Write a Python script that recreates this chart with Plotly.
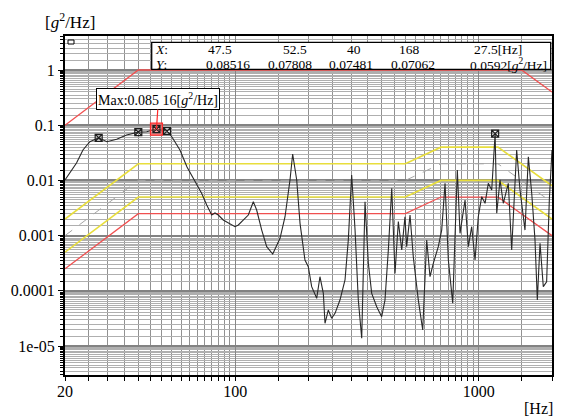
import numpy as np
import plotly.graph_objects as go

# ---------------- data ----------------
freq = [20, 22.3, 23.7, 25.3, 27.5, 29.7, 32.6, 35.8, 40, 43.3, 47.5, 52.5, 54.9, 59.3, 63.4, 68.4,
        72.8, 76.4, 80.1, 82.6, 85.2, 89.3, 96.7, 99.8, 103, 107.9, 113.2, 118.7, 122.5, 128.5,
        134.7, 142.6, 148, 152.8, 160.2, 167.9, 172.2, 178.9, 184.6, 193.4, 199.6, 206.1, 216.1,
        222.9, 230.1, 233.8, 241.1, 249, 257, 269.3, 282.5, 291.4, 300.8, 310.6, 320.3, 330.8,
        341.3, 352.2, 363.6, 381.2, 399.5, 412.2, 425.5, 439.4, 453.2, 467.7, 483, 498, 506,
        522.4, 538.7, 565, 589, 611.6, 631, 651, 682.4, 704.8, 727.4, 750.5, 782.2, 817, 838,
        878.9, 906.6, 935.9, 966, 996, 1029, 1062, 1095, 1131, 1168, 1186, 1223, 1262, 1323,
        1366, 1432, 1478, 1549, 1599, 1651, 1703, 1741, 1786, 1842, 1901, 1950, 2000]
psd = [0.0102, 0.0207, 0.0356, 0.0502, 0.0592, 0.0502, 0.0555, 0.0664, 0.07481, 0.0762, 0.08516,
       0.07808, 0.0619, 0.0356, 0.0175, 0.00935, 0.00584, 0.00358, 0.00236, 0.00257, 0.00236,
       0.00192, 0.00156, 0.00145, 0.00156, 0.00192, 0.00236, 0.00411, 0.00291, 0.00126, 0.00063,
       0.000464, 0.000676, 0.000893, 0.0022, 0.0102, 0.0301, 0.0102, 0.00167, 0.000361, 0.000273,
       0.000119, 7.31e-5, 0.00018, 9.0e-5, 2.58e-5, 4.49e-5, 3.18e-5, 3.91e-5, 6.8e-5, 0.000157,
       0.000832, 0.01253, 0.00126, 6.8e-5, 1.38e-5, 0.00411, 0.000315, 9.0e-5, 5.15e-5, 3.4e-5,
       6.8e-5, 0.000548, 0.0072, 0.000207, 0.00179, 0.000548, 0.0022, 0.00063, 0.00236, 0.000415,
       6.8e-5, 1.95e-5, 0.000832, 0.00018, 0.000315, 0.00063, 0.00126, 0.00885, 0.000361, 5.94e-5,
       0.0154, 0.0011, 0.00442, 0.00063, 0.00145, 0.000361, 0.0022, 0.00507, 0.00385, 0.00885,
       0.0067, 0.07062, 0.00254, 0.0102, 0.00385, 0.00885, 0.000548, 0.0356, 0.0067, 0.00126,
       0.0269, 0.00584, 0.000832, 6.8e-5, 0.000726, 0.000119, 0.000146, 0.00442, 0.0356]

mark_f = [27.5, 40, 47.5, 52.5, 1168]
mark_v = [0.0592, 0.07481, 0.08516, 0.07808, 0.07062]
max_f = 47.5
max_v = 0.08516
max_label = "0.085 16"

table_x = ["47.5", "52.5", "40", "168", "27.5"]
table_y = ["0.08516", "0.07808", "0.07481", "0.07062", "0.0592"]

prof_f = [20, 40, 500, 700, 1200, 2000]
ref_lvl = [0.001, 0.01, 0.01, 0.02, 0.02, 0.004]
warn_hi = [0.002, 0.02, 0.02, 0.04, 0.04, 0.008]
warn_lo = [0.0005, 0.005, 0.005, 0.01, 0.01, 0.002]
abort_lo = [0.00025, 0.0025, 0.0025, 0.005, 0.005, 0.001]
abort_hi_f = [20, 40, 1500, 2000]
abort_hi = [0.1, 1, 1, 0.4]

x_ticks = [20, 100, 1000, 2000]
x_ticktext = ["20", "100", "1000", "2000"]
y_ticks = [1e-5, 1e-4, 1e-3, 1e-2, 1e-1, 1]
y_ticktext = ["1e-05", "0.0001", "0.001", "0.01", "0.1", "1"]

# ---------------- grid positions ----------------
x_minor = list(range(25, 100, 5)) + list(range(150, 1000, 50)) + [1500]
y_minor = []
for n in range(-6, 1):
    for m in np.arange(1.5, 10, 0.5):
        y_minor.append(float(m) * 10.0 ** n)

FONT = "Liberation Serif"
RED = "rgb(240,80,80)"
YEL = "rgb(232,222,60)"

fig = go.Figure()

fig.add_trace(go.Scatter(x=abort_hi_f, y=abort_hi, mode="lines",
                         line=dict(color=RED, width=1.3), hoverinfo="skip"))
fig.add_trace(go.Scatter(x=prof_f, y=warn_hi, mode="lines",
                         line=dict(color=YEL, width=1.6), hoverinfo="skip"))
fig.add_trace(go.Scatter(x=prof_f, y=ref_lvl, mode="lines",
                         line=dict(color="rgb(165,165,165)", width=1, dash="dash"), hoverinfo="skip"))
fig.add_trace(go.Scatter(x=prof_f, y=warn_lo, mode="lines",
                         line=dict(color=YEL, width=1.6), hoverinfo="skip"))
fig.add_trace(go.Scatter(x=prof_f, y=abort_lo, mode="lines",
                         line=dict(color=RED, width=1.3), hoverinfo="skip"))
fig.add_trace(go.Scatter(x=freq, y=psd, mode="lines",
                         line=dict(color="rgb(40,40,40)", width=1.1)))
fig.add_trace(go.Scatter(x=[max_f], y=[max_v], mode="markers",
                         marker=dict(symbol="square", size=12, color="rgba(255,90,90,0.55)",
                                     line=dict(color="rgb(255,40,40)", width=1.2))))
fig.add_trace(go.Scatter(x=mark_f, y=mark_v, mode="markers",
                         marker=dict(symbol="square-x-open", size=7, color="rgb(30,30,30)",
                                     line=dict(width=1.2))))

fig.update_layout(
    width=566, height=419,
    margin=dict(l=65, r=14, t=36, b=44),
    paper_bgcolor="white", plot_bgcolor="white",
    showlegend=False,
    font=dict(family=FONT, size=16, color="black"),
    xaxis=dict(type="log", range=[np.log10(20), np.log10(2000)],
               tickvals=x_ticks, ticktext=x_ticktext,
               showgrid=True, gridcolor="rgb(135,135,135)", gridwidth=1.4,
               showline=True, linecolor="black", linewidth=2, mirror=True,
               ticks="outside", ticklen=4, tickcolor="black",
               tickfont=dict(family=FONT, size=16), ticklabelstandoff=-3,
               minor=dict(tickmode="array", tickvals=x_minor, showgrid=True,
                          gridcolor="rgb(145,145,145)", gridwidth=1.4,
                          ticks="outside", ticklen=4, tickcolor="black"),
               zeroline=False),
    yaxis=dict(type="log", range=[-5.525, 0.616],
               tickvals=y_ticks, ticktext=y_ticktext,
               showgrid=True, gridcolor="rgb(130,130,130)", gridwidth=1.5,
               showline=True, linecolor="black", linewidth=2, mirror=True,
               ticks="outside", ticklen=5, tickcolor="black",
               tickfont=dict(family=FONT, size=16),
               minor=dict(tickmode="array", tickvals=y_minor, showgrid=True,
                          gridcolor="rgb(175,175,175)", gridwidth=1,
                          ticks="outside", ticklen=3, tickcolor="black"),
               zeroline=False),
)

def px(xp):
    return (xp - 65) / 487.0

def py(yp):
    return (375 - yp) / 339.0

shapes = [
    dict(type="rect", xref="paper", yref="paper", x0=px(151.7), x1=px(550.7),
         y0=py(69.3), y1=py(42.3), fillcolor="white", line=dict(color="black", width=1.3), layer="above"),
    dict(type="rect", xref="paper", yref="paper", x0=px(68), x1=px(74),
         y0=py(44), y1=py(40), fillcolor="white", line=dict(color="black", width=1), layer="above"),
]
fig.update_layout(shapes=shapes)

ann = []
TF = dict(family=FONT, size=13.5, color="black")
rowx, rowy = py(49.2), py(64.3)
def cell(xp, yv, txt, anchor="center"):
    return dict(x=px(xp), y=yv, xref="paper", yref="paper", text=txt, showarrow=False,
                font=TF, xanchor=anchor, yanchor="middle")
ann.append(cell(161, rowx, "<i>X</i>:"))
ann.append(cell(161, rowy, "<i>Y</i>:"))
x_centers = [220, 295, 354, 409]
y_centers = [228, 290, 351, 413]
for i in range(4):
    ann.append(cell(x_centers[i], rowx, table_x[i]))
    ann.append(cell(y_centers[i], rowy, table_y[i]))
ann.append(cell(524, rowx, table_x[4] + "[Hz]", "right"))
ann.append(cell(549, rowy, table_y[4] + "[<i>g</i><sup>2</sup>/Hz]", "right"))

# max annotation
ann.append(dict(x=np.log10(max_f), y=np.log10(max_v), xref="x", yref="y",
                text="Max:" + max_label + "[<i>g</i><sup>2</sup>/Hz]",
                showarrow=True, arrowhead=0, arrowcolor="rgb(255,40,40)", arrowwidth=1.2,
                ax=2, ay=-30, font=dict(family=FONT, size=14, color="black"),
                bgcolor="white", bordercolor="black", borderwidth=1, borderpad=1))

# axis titles
ann.append(dict(x=px(43), y=py(21.5), xref="paper", yref="paper",
                text="[<i>g</i><sup>2</sup>/Hz]", showarrow=False,
                font=dict(family=FONT, size=17, color="black"), xanchor="left", yanchor="middle"))
ann.append(dict(x=px(522), y=py(408), xref="paper", yref="paper", text="[Hz]", showarrow=False,
                font=dict(family=FONT, size=16, color="black"), xanchor="left", yanchor="middle"))

fig.update_layout(annotations=ann)

fig.write_html("out.html", config={"displayModeBar": False},
               post_script="document.body.style.margin='0px';")
